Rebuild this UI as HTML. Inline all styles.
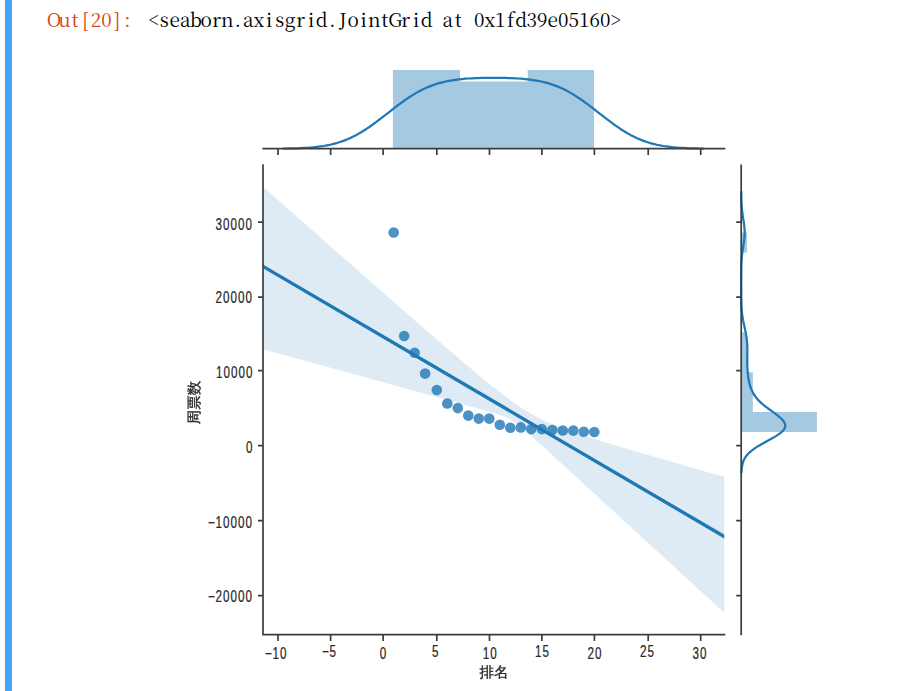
<!DOCTYPE html>
<html><head><meta charset="utf-8"><title>Out[20]</title><style>
html,body{margin:0;padding:0;background:#fff;}
body{width:911px;height:691px;overflow:hidden;position:relative;}
svg{position:absolute;left:0;top:0;}
.t{font-family:"Liberation Sans","WenQuanYi Zen Hei",sans-serif;font-size:15.8px;fill:#2a2a2a;stroke:#2a2a2a;stroke-width:0.25px;}
.cj{font-family:"WenQuanYi Zen Hei","Noto Sans CJK SC",sans-serif;font-size:14.5px;fill:#2a2a2a;stroke:#2a2a2a;stroke-width:0.35px;}
.mono{font-family:"Noto Serif CJK SC","Liberation Serif",serif;font-size:19px;}
</style></head><body>
<svg width="911" height="691" viewBox="0 0 911 691">
<rect x="5" y="0" width="7" height="691" fill="#42a5f5"/>
<text class="mono" x="53.95 64.45 74.95 85.45 95.95 106.45 116.95 127.45" y="27" text-anchor="middle" fill="#d84315">Out[20]:</text>
<text class="mono" x="153.75 164.25 174.75 185.25 195.75 206.25 216.75 227.25 237.75 248.25 258.75 269.25 279.75 290.25 300.75 311.25 321.75 332.25 342.75 353.25 363.75 374.25 384.75 395.25 405.75 416.25 426.75 437.25 447.75 458.25 468.75 479.25 489.75 500.25 510.75 521.25 531.75 542.25 552.75 563.25 573.75 584.25 594.75 605.25 615.75" y="27" text-anchor="middle" fill="#000">&lt;seaborn.axisgrid.JointGrid at 0x1fd39e05160&gt;</text>
<g fill="#1f77b4" fill-opacity="0.4"><path d="M392.9,148.7V70.1H460V81.6H527.7V70.1H594V148.7Z"/><path d="M741.2,432H816.9V412.05H752.85V392.1H752.85V372.15H747.02V352.2H747.02V332.25H741.2V312.3H741.2V292.35H741.2V272.4H741.2V252.45H747.02V232.5H741.2Z"/></g>
<g fill="#1f77b4" fill-opacity="0.8"><circle cx="393.65" cy="232.5" r="5.3"/><circle cx="404.15" cy="336" r="5.3"/><circle cx="414.65" cy="352.8" r="5.3"/><circle cx="425.15" cy="373.6" r="5.3"/><circle cx="436.8" cy="390.1" r="5.3"/><circle cx="447.3" cy="403.5" r="5.3"/><circle cx="457.8" cy="408.1" r="5.3"/><circle cx="468.3" cy="415.6" r="5.3"/><circle cx="478.8" cy="418.6" r="5.3"/><circle cx="489.3" cy="418.6" r="5.3"/><circle cx="499.8" cy="424.8" r="5.3"/><circle cx="510.3" cy="427.7" r="5.3"/><circle cx="520.8" cy="427.4" r="5.3"/><circle cx="531.3" cy="429.1" r="5.3"/><circle cx="541.8" cy="429.1" r="5.3"/><circle cx="552.3" cy="430" r="5.3"/><circle cx="562.8" cy="430.5" r="5.3"/><circle cx="573.3" cy="430.6" r="5.3"/><circle cx="583.8" cy="431.8" r="5.3"/><circle cx="594.3" cy="432" r="5.3"/></g>
<polygon points="263.4,187.17 268.58,191.74 273.76,196.31 278.93,200.88 284.11,205.45 289.29,210.01 294.47,214.58 299.64,219.14 304.82,223.71 310,228.27 315.18,232.84 320.35,237.4 325.53,241.96 330.71,246.52 335.89,251.08 341.06,255.63 346.24,260.19 351.42,264.74 356.6,269.3 361.77,273.85 366.95,278.4 372.13,282.94 377.31,287.49 382.48,292.03 387.66,296.57 392.84,301.1 398.02,305.64 403.19,310.17 408.37,314.69 413.55,319.21 418.73,323.73 423.9,328.23 429.08,332.73 434.26,337.23 439.44,341.71 444.61,346.18 449.79,350.64 454.97,355.09 460.15,359.52 465.32,363.93 470.5,368.31 475.68,372.66 480.86,376.98 486.03,381.25 491.21,385.46 496.39,389.6 501.57,393.66 506.74,397.6 511.92,401.41 517.1,405.05 522.28,408.49 527.45,411.72 532.63,414.71 537.81,417.48 542.99,420.02 548.16,422.38 553.34,424.57 558.52,426.63 563.7,428.59 568.87,430.46 574.05,432.26 579.23,434.01 584.41,435.72 589.58,437.39 594.76,439.03 599.94,440.64 605.12,442.24 610.29,443.82 615.47,445.38 620.65,446.93 625.83,448.47 631,450 636.18,451.53 641.36,453.05 646.54,454.56 651.71,456.06 656.89,457.56 662.07,459.06 667.25,460.56 672.42,462.05 677.6,463.53 682.78,465.02 687.96,466.5 693.13,467.98 698.31,469.45 703.49,470.93 708.67,472.4 713.84,473.88 719.02,475.35 724.2,476.82 724.2,612.66 719.02,607.91 713.84,603.16 708.67,598.41 703.49,593.65 698.31,588.9 693.13,584.15 687.96,579.4 682.78,574.65 677.6,569.9 672.42,565.15 667.25,560.4 662.07,555.65 656.89,550.9 651.71,546.15 646.54,541.4 641.36,536.65 636.18,531.9 631,527.15 625.83,522.4 620.65,517.65 615.47,512.9 610.29,508.16 605.12,503.41 599.94,498.67 594.76,493.92 589.58,489.18 584.41,484.43 579.23,479.69 574.05,474.95 568.87,470.22 563.7,465.48 558.52,460.75 553.34,456.03 548.16,451.32 542.99,446.61 537.81,441.93 532.63,437.27 527.45,432.67 522.28,428.18 517.1,423.94 511.92,420.31 506.74,417.61 501.57,415.6 496.39,413.89 491.21,412.3 486.03,410.78 480.86,409.29 475.68,407.82 470.5,406.36 465.32,404.91 460.15,403.47 454.97,402.03 449.79,400.59 444.61,399.16 439.44,397.73 434.26,396.3 429.08,394.87 423.9,393.44 418.73,392.02 413.55,390.59 408.37,389.17 403.19,387.74 398.02,386.32 392.84,384.9 387.66,383.47 382.48,382.05 377.31,380.63 372.13,379.21 366.95,377.79 361.77,376.37 356.6,374.94 351.42,373.52 346.24,372.1 341.06,370.68 335.89,369.26 330.71,367.84 325.53,366.42 320.35,365 315.18,363.58 310,362.16 304.82,360.74 299.64,359.32 294.47,357.9 289.29,356.48 284.11,355.06 278.93,353.64 273.76,352.22 268.58,350.8 263.4,349.38" fill="#1f77b4" fill-opacity="0.15"/>
<clipPath id="ax"><rect x="263" y="150" width="461.2" height="485"/></clipPath>
<g stroke="#1f77b4" stroke-width="3.4" clip-path="url(#ax)"><line x1="258" y1="263.47" x2="729" y2="539.29"/></g>
<g fill="none" stroke="#1f77b4" stroke-width="2.25" stroke-linejoin="round" stroke-linecap="square">
<polyline points="283.95,148.55 287.25,148.5 290.55,148.44 293.85,148.36 297.15,148.26 300.45,148.13 303.75,147.97 307.05,147.78 310.35,147.54 313.65,147.25 316.95,146.9 320.25,146.48 323.55,145.99 326.84,145.4 330.14,144.73 333.44,143.94 336.74,143.04 340.04,142.02 343.34,140.87 346.64,139.59 349.94,138.16 353.24,136.59 356.54,134.88 359.84,133.03 363.14,131.04 366.43,128.93 369.73,126.7 373.03,124.37 376.33,121.95 379.63,119.46 382.93,116.92 386.23,114.35 389.53,111.77 392.83,109.2 396.13,106.66 399.43,104.18 402.73,101.76 406.03,99.44 409.32,97.22 412.62,95.11 415.92,93.14 419.22,91.29 422.52,89.59 425.82,88.03 429.12,86.61 432.42,85.34 435.72,84.19 439.02,83.18 442.32,82.29 445.62,81.51 448.91,80.84 452.21,80.27 455.51,79.78 458.81,79.37 462.11,79.02 465.41,78.74 468.71,78.5 472.01,78.32 475.31,78.17 478.61,78.05 481.91,77.96 485.21,77.9 488.51,77.86 491.8,77.84 495.1,77.84 498.4,77.86 501.7,77.9 505,77.96 508.3,78.05 511.6,78.17 514.9,78.32 518.2,78.5 521.5,78.74 524.8,79.02 528.1,79.37 531.39,79.78 534.69,80.27 537.99,80.84 541.29,81.51 544.59,82.29 547.89,83.18 551.19,84.19 554.49,85.34 557.79,86.61 561.09,88.03 564.39,89.59 567.69,91.29 570.99,93.14 574.28,95.11 577.58,97.22 580.88,99.44 584.18,101.76 587.48,104.18 590.78,106.66 594.08,109.2 597.38,111.77 600.68,114.35 603.98,116.92 607.28,119.46 610.58,121.95 613.87,124.37 617.17,126.7 620.47,128.93 623.77,131.04 627.07,133.03 630.37,134.88 633.67,136.59 636.97,138.16 640.27,139.59 643.57,140.87 646.87,142.02 650.17,143.04 653.47,143.94 656.76,144.73 660.06,145.4 663.36,145.99 666.66,146.48 669.96,146.9 673.26,147.25 676.56,147.54 679.86,147.78 683.16,147.97 686.46,148.13 689.76,148.26 693.06,148.36 696.35,148.44 699.65,148.5 702.95,148.55"/><polyline points="741.43,472.1 741.58,469.9 741.82,467.7 742.17,465.5 742.69,463.29 743.42,461.09 744.42,458.89 745.77,456.69 747.51,454.48 749.69,452.28 752.33,450.08 755.43,447.88 758.94,445.67 762.78,443.47 766.8,441.27 770.85,439.07 774.72,436.86 778.23,434.66 781.17,432.46 783.4,430.26 784.79,428.05 785.31,425.85 784.95,423.65 783.8,421.45 781.95,419.25 779.56,417.04 776.79,414.84 773.8,412.64 770.74,410.44 767.73,408.23 764.87,406.03 762.22,403.83 759.83,401.63 757.72,399.42 755.89,397.22 754.32,395.02 752.99,392.82 751.88,390.61 750.96,388.41 750.2,386.21 749.58,384.01 749.07,381.8 748.65,379.6 748.31,377.4 748.02,375.2 747.79,372.99 747.6,370.79 747.46,368.59 747.35,366.39 747.29,364.18 747.26,361.98 747.26,359.78 747.28,357.58 747.31,355.38 747.34,353.17 747.36,350.97 747.36,348.77 747.31,346.57 747.22,344.36 747.07,342.16 746.85,339.96 746.57,337.76 746.23,335.55 745.84,333.35 745.4,331.15 744.94,328.95 744.45,326.74 743.98,324.54 743.52,322.34 743.09,320.14 742.71,317.93 742.37,315.73 742.09,313.53 741.86,311.33 741.68,309.12 741.54,306.92 741.43,304.72 741.35,302.52 741.3,300.32 741.26,298.11 741.24,295.91 741.22,293.71 741.21,291.51 741.21,289.3 741.21,287.1 741.2,284.9 741.2,282.7 741.21,280.49 741.21,278.29 741.22,276.09 741.23,273.89 741.25,271.68 741.28,269.48 741.32,267.28 741.38,265.08 741.46,262.87 741.58,260.67 741.73,258.47 741.91,256.27 742.14,254.06 742.41,251.86 742.72,249.66 743.05,247.46 743.4,245.25 743.74,243.05 744.05,240.85 744.32,238.65 744.52,236.45 744.64,234.24 744.66,232.04 744.6,229.84 744.44,227.64 744.21,225.43 743.93,223.23 743.6,221.03 743.25,218.83 742.91,216.62 742.59,214.42 742.3,212.22 742.04,210.02 741.83,207.81 741.66,205.61 741.52,203.41 741.42,201.21 741.35,199 741.3,196.8 741.26,194.6 741.24,192.4"/></g>
<g stroke="#3d3d3d" stroke-width="1.7" fill="none">
<path d="M262.4,148.7H725.3M263,164.2V635.3M262.4,634.7H725.3M741.2,164.5V635.3"/>
<path d="M278,634.7V641M278,148.7V155"/><path d="M330.6,634.7V641M330.6,148.7V155"/><path d="M383.1,634.7V641M383.1,148.7V155"/><path d="M436.8,634.7V641M436.8,148.7V155"/><path d="M489.5,634.7V641M489.5,148.7V155"/><path d="M541.9,634.7V641M541.9,148.7V155"/><path d="M594.4,634.7V641M594.4,148.7V155"/><path d="M648.2,634.7V641M648.2,148.7V155"/><path d="M700.7,634.7V641M700.7,148.7V155"/><path d="M258,222.2H263M736.2,222.2H741.2"/><path d="M258,297.2H263M736.2,297.2H741.2"/><path d="M258,370.6H263M736.2,370.6H741.2"/><path d="M258,445.6H263M736.2,445.6H741.2"/><path d="M258,520.6H263M736.2,520.6H741.2"/><path d="M258,595.6H263M736.2,595.6H741.2"/></g>
<g class="t"><text transform="translate(264.9,658.8) scale(0.74,1)" x="0 10.14 20.27" y="0">&#8722;10</text><text transform="translate(322,657.2) scale(0.74,1)" x="0 10.14" y="0">&#8722;5</text><text transform="translate(379.65,658.95) scale(0.74,1)" x="0" y="0">0</text><text transform="translate(431.9,657.2) scale(0.74,1)" x="0" y="0">5</text><text transform="translate(482.8,658.9) scale(0.74,1)" x="0 10.14" y="0">10</text><text transform="translate(535.05,656.95) scale(0.74,1)" x="0 10.14" y="0">15</text><text transform="translate(587.45,659.05) scale(0.74,1)" x="0 10.14" y="0">20</text><text transform="translate(639.95,657) scale(0.74,1)" x="0 10.14" y="0">25</text><text transform="translate(692.4,658.6) scale(0.74,1)" x="0 10.14" y="0">30</text><text transform="translate(215.5,229.5) scale(0.74,1)" x="0 10.14 20.27 30.41 40.54" y="0">30000</text><text transform="translate(215.4,303.4) scale(0.74,1)" x="0 10.14 20.27 30.41 40.54" y="0">20000</text><text transform="translate(215.9,378.3) scale(0.74,1)" x="0 10.14 20.27 30.41 40.54" y="0">10000</text><text transform="translate(245.95,453.35) scale(0.74,1)" x="0" y="0">0</text><text transform="translate(207.95,528.3) scale(0.74,1)" x="0 10.14 20.27 30.41 40.54 50.68" y="0">&#8722;10000</text><text transform="translate(208,601.5) scale(0.74,1)" x="0 10.14 20.27 30.41 40.54 50.68" y="0">&#8722;20000</text></g>
<text class="cj" x="494" y="677.4" text-anchor="middle">排名</text>
<text class="cj" transform="translate(199.3,402.6) rotate(-90)" text-anchor="middle">周票数</text>
</svg>
</body></html>
